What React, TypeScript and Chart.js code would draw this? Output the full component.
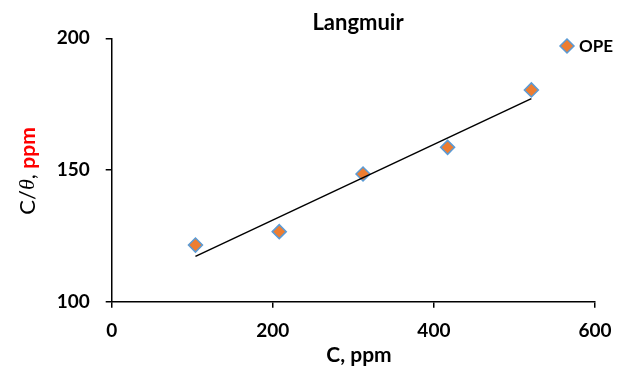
import React, { useEffect, useRef } from 'react';
import { Chart, registerables } from 'chart.js';

Chart.register(...registerables);

// ---- data ----
const chartTitle = 'Langmuir';
const xTitle = 'C, ppm';
const yTitleParts = ['C/', 'θ', ', ', 'ppm'];
const seriesLabel = 'OPE';
const trendLabel = 'Linear (OPE)';
const concentrations = [104, 208, 312, 417, 521];
const cOverTheta = [121.5, 126.6, 148.5, 158.6, 180.4];
const trendX = [104, 521];
const trendY = [117.2, 177.1];
const xTickValues = [0, 200, 400, 600];
const yTickValues = [100, 150, 200];

const FONT = "Lato, 'Open Sans', 'DejaVu Sans', sans-serif";
const ORANGE = '#ED7D31';
const BLUE = '#5B9BD5';

const textPlugin = {
  id: 'customTexts',
  afterDraw(chart: any) {
    const ctx: CanvasRenderingContext2D = chart.ctx;
    ctx.save();
    ctx.fillStyle = '#000';
    ctx.textBaseline = 'middle';
    ctx.textAlign = 'center';
    // chart title
    ctx.font = `bold 22px ${FONT}`;
    ctx.fillText(chartTitle, 358, 23);
    // x title
    ctx.font = `bold 21px ${FONT}`;
    ctx.fillText(xTitle, 359, 355);

    // y title (rotated, mixed styles)
    const fonts = [
      `22px ${FONT}`,
      `italic 22px 'Liberation Serif', 'DejaVu Serif', serif`,
      `22px ${FONT}`,
      `bold 21px ${FONT}`,
    ];
    const colors = ['#000000', '#000000', '#000000', '#FF0000'];
    let total = 0;
    const widths = yTitleParts.map((p, i) => {
      ctx.font = fonts[i];
      const w = ctx.measureText(p).width;
      total += w;
      return w;
    });
    ctx.translate(28, 171);
    ctx.rotate(-Math.PI / 2);
    ctx.textAlign = 'left';
    let x = -total / 2;
    yTitleParts.forEach((p, i) => {
      ctx.font = fonts[i];
      ctx.fillStyle = colors[i];
      ctx.fillText(p, x, 0);
      x += widths[i];
    });
    ctx.restore();

    // legend
    const ds = chart.data.datasets[1];
    ctx.save();
    const cx = 567, cy = 46, r = 7;
    ctx.beginPath();
    ctx.moveTo(cx, cy - r);
    ctx.lineTo(cx + r, cy);
    ctx.lineTo(cx, cy + r);
    ctx.lineTo(cx - r, cy);
    ctx.closePath();
    ctx.fillStyle = ds.backgroundColor;
    ctx.fill();
    ctx.lineWidth = ds.borderWidth;
    ctx.strokeStyle = ds.borderColor;
    ctx.stroke();
    ctx.font = `bold 17px ${FONT}`;
    ctx.fillStyle = '#000';
    ctx.textAlign = 'left';
    ctx.textBaseline = 'middle';
    ctx.fillText(ds.label, 579, 47);
    ctx.restore();
  },
};

export default function App() {
  const canvasRef = useRef<HTMLCanvasElement | null>(null);

  useEffect(() => {
    document.body.style.margin = '0';
    const canvas = canvasRef.current;
    if (!canvas) return;
    const points = concentrations.map((c, i) => ({ x: c, y: cOverTheta[i] }));
    const trend = trendX.map((c, i) => ({ x: c, y: trendY[i] }));

    const chart = new Chart(canvas, {
      type: 'scatter',
      data: {
        datasets: [
          {
            type: 'line',
            label: trendLabel,
            data: trend,
            showLine: true,
            borderColor: '#000',
            borderWidth: 1.5,
            pointRadius: 0,
            fill: false,
          } as any,
          {
            label: seriesLabel,
            data: points,
            pointStyle: 'rectRot',
            pointRadius: 7,
            backgroundColor: ORANGE,
            borderColor: BLUE,
            borderWidth: 1.5,
          },
        ],
      },
      options: {
        responsive: false,
        animation: false,
        devicePixelRatio: 1,
        events: [],
        layout: { padding: { top: 38.3, right: 39, left: 0, bottom: 0 } },
        plugins: {
          legend: { display: false },
          title: { display: false },
          tooltip: { enabled: false },
        },
        scales: {
          x: {
            type: 'linear',
            min: xTickValues[0],
            max: xTickValues[xTickValues.length - 1],
            afterBuildTicks: (s: any) => {
              s.ticks = xTickValues.map((v) => ({ value: v }));
            },
            afterFit: (s: any) => {
              s.height = 65.3;
            },
            grid: {
              drawOnChartArea: false,
              drawTicks: true,
              tickLength: 6,
              color: '#000',
              lineWidth: 1.5,
            },
            border: { display: true, color: '#000', width: 1.5 },
            ticks: {
              color: '#000',
              padding: 12,
              font: { family: FONT, size: 19, weight: 'bold' },
            },
          },
          y: {
            type: 'linear',
            min: yTickValues[0],
            max: yTickValues[yTickValues.length - 1],
            afterBuildTicks: (s: any) => {
              s.ticks = yTickValues.map((v) => ({ value: v }));
            },
            afterFit: (s: any) => {
              s.width = 111.7;
            },
            grid: {
              drawOnChartArea: false,
              drawTicks: true,
              tickLength: 6,
              color: '#000',
              lineWidth: 1.5,
            },
            border: { display: true, color: '#000', width: 1.5 },
            ticks: {
              color: '#000',
              padding: 16,
              font: { family: FONT, size: 19, weight: 'bold' },
            },
          },
        },
      },
      plugins: [textPlugin],
    });
    return () => chart.destroy();
  }, []);

  return (
    <div style={{ position: 'relative', width: 634, height: 367 }}>
      <canvas ref={canvasRef} width={634} height={367} style={{ width: 634, height: 367, display: 'block' }} />
    </div>
  );
}
